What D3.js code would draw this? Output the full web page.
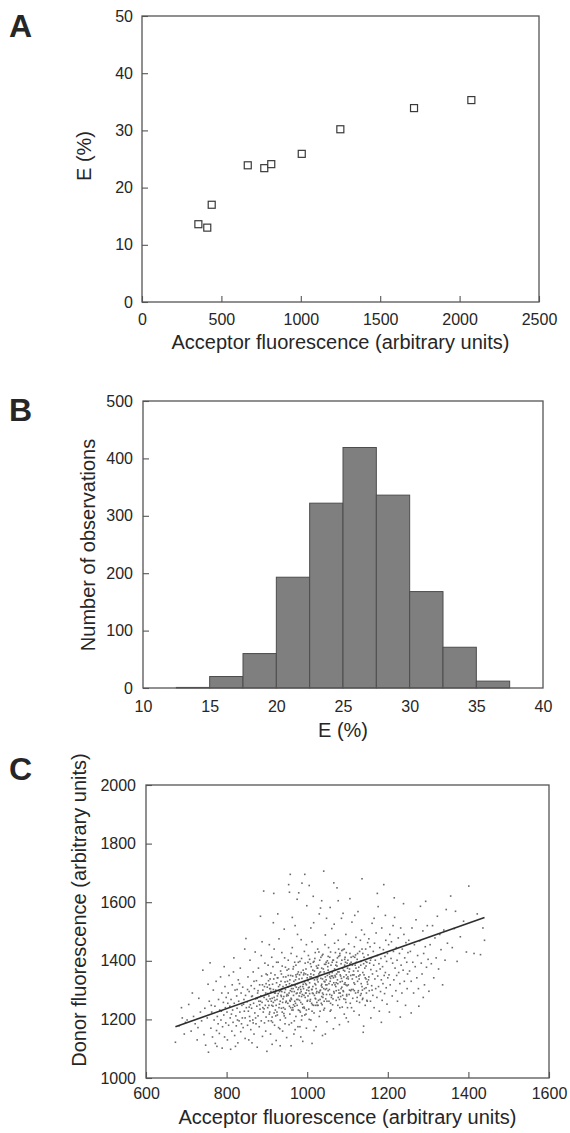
<!DOCTYPE html>
<html><head><meta charset="utf-8">
<script src="https://cdn.jsdelivr.net/npm/d3@7"></script>
<style>
body{margin:0;background:#fff}
svg text{font-family:"Liberation Sans",Arial,Helvetica,sans-serif;fill:#262626}
</style>
</head><body>
<svg id="fig" width="570" height="1133"></svg>
<script>
// ---------- Panel A data ----------
const aAcceptor   = [355, 411, 439, 666, 770, 814, 1006, 1249, 1713, 2074];
const aEfficiency = [13.6, 13.0, 17.0, 23.9, 23.4, 24.1, 25.9, 30.2, 33.9, 35.3];
const aXTicks = [0, 500, 1000, 1500, 2000, 2500];
const aYTicks = [0, 10, 20, 30, 40, 50];

// ---------- Panel B data ----------
const bBinStart = [10, 12.5, 15, 17.5, 20, 22.5, 25, 27.5, 30, 32.5, 35, 37.5];
const bCounts   = [0, 1, 20, 60, 193, 322, 419, 336, 168, 71, 12, 0];
const bXTicks = [10, 15, 20, 25, 30, 35, 40];
const bYTicks = [0, 100, 200, 300, 400, 500];

// ---------- Panel C data ----------
const cXTicks = [600, 800, 1000, 1200, 1400, 1600];
const cYTicks = [1000, 1200, 1400, 1600, 1800, 2000];
const cFitAcceptor = [673, 1440];
const cFitDonor    = [1175, 1548];
// acceptor,donor pairs read (estimated) from the scatter cloud
const cPoints = "673,1122;682,1178;690,1205;695,1150;688,1240;698,1190;" +
"706,1251;712,1160;718,1210;722,1185;727,1130;731,1272;735,1225;738,1195;741,1368;744,1148;746,1238;702,1198;715,1290;729,1172;748,1112;" +
"752,1205;755,1088;757,1262;759,1393;761,1170;763,1225;765,1140;767,1300;769,1198;771,1245;772,1118;774,1330;776,1108;777,1210;779,1185;780,1268;782,1152;783,1232;785,1345;786,1198;788,1290;789,1102;790,1175;792,1258;793,1215;795,1140;796,1312;797,1240;798,1188;799,1275;754,1320;762,1248;775,1162;787,1228;794,1380;" +
"801,1225;802,1130;804,1290;805,1180;806,1350;808,1245;809,1205;810,1098;811,1268;813,1160;814,1318;815,1232;816,1190;818,1410;819,1255;820,1145;821,1300;823,1212;824,1178;825,1280;826,1238;828,1120;829,1335;830,1262;831,1195;833,1225;834,1375;835,1158;836,1290;838,1248;839,1205;840,1310;841,1172;843,1268;844,1228;845,1440;846,1135;847,1282;848,1476;849,1240;803,1255;812,1218;817,1362;822,1108;827,1198;832,1322;837,1185;842,1252;826,1302;846,1205;" +
"851,1260;852,1180;853,1345;854,1228;855,1130;856,1295;857,1210;858,1402;859,1250;860,1165;861,1315;862,1238;863,1120;864,1280;865,1198;866,1362;867,1255;868,1150;869,1305;870,1222;871,1430;872,1270;873,1185;874,1332;875,1245;876,1105;877,1290;878,1212;879,1375;880,1262;881,1175;882,1318;883,1235;884,1552;885,1280;886,1195;887,1348;888,1258;889,1142;890,1300;891,1225;892,1638;893,1275;894,1188;895,1392;896,1248;897,1160;898,1322;899,1268;900,1091;852,1302;858,1195;862,1278;868,1330;872,1205;878,1298;882,1250;886,1418;890,1240;894,1312;898,1208;856,1242;866,1188;876,1272;888,1465;" +
"901,1310;902,1240;903,1385;904,1195;905,1280;906,1455;907,1225;908,1338;909,1150;910,1295;911,1262;912,1412;913,1208;914,1320;915,1245;916,1530;917,1630;918,1275;919,1180;920,1352;921,1232;922,1300;923,1128;924,1395;925,1268;926,1215;927,1342;928,1288;929,1172;930,1475;931,1252;932,1318;933,1198;934,1365;935,1282;936,1238;937,1428;938,1305;939,1160;940,1270;941,1345;942,1220;943,1508;944,1292;945,1185;946,1378;947,1258;948,1318;949,1138;950,1285;902,1288;904,1332;906,1218;908,1270;910,1358;912,1248;914,1190;916,1302;918,1440;920,1265;922,1212;924,1325;926,1280;928,1395;930,1240;932,1168;934,1298;936,1355;938,1225;940,1312;942,1278;944,1410;946,1205;948,1262;950,1368;903,1262;907,1305;911,1195;915,1380;919,1290;923,1248;927,1560;931,1295;935,1330;939,1258;943,1212;947,1345;913,1115;933,1110;945,1235;" +
"951,1330;952,1255;953,1402;954,1660;955,1290;956,1634;957,1218;958,1695;959,1350;960,1272;961,1188;962,1318;963,1445;964,1240;965,1305;966,1380;967,1150;968,1295;969,1262;970,1520;971,1335;972,1210;973,1288;974,1415;975,1248;976,1322;977,1175;978,1362;979,1632;980,1280;981,1230;982,1398;983,1312;984,1258;985,1472;986,1198;987,1340;988,1285;989,1125;990,1368;991,1305;992,1242;993,1432;994,1695;995,1275;996,1355;997,1218;998,1318;999,1588;1000,1262;" +
"952,1310;954,1372;956,1245;958,1298;960,1425;962,1232;964,1348;966,1282;968,1195;970,1315;972,1385;974,1268;976,1490;978,1232;980,1338;982,1175;984,1302;986,1408;988,1252;990,1320;992,1358;994,1215;996,1290;998,1455;1000,1342;" +
"953,1282;957,1335;961,1268;965,1232;969,1395;973,1345;977,1302;981,1265;985,1360;989,1312;993,1238;997,1290;955,1182;963,1548;971,1255;979,1308;987,1212;995,1392;959,1240;967,1330;975,1290;983,1225;991,1352;999,1300;975,1610;987,1665;960,1110;984,1140;998,1170;970,1165;" +
"1001,1352;1002,1280;1003,1418;1004,1235;1005,1657;1006,1325;1007,1262;1008,1390;1009,1198;1010,1345;1011,1302;1012,1465;1013,1250;1014,1368;1015,1288;1016,1530;1017,1222;1018,1335;1019,1408;1020,1272;1021,1318;1022,1175;1023,1382;1024,1295;1025,1248;1026,1440;1027,1328;1028,1265;1029,1355;1030,1210;1031,1402;1032,1298;1033,1580;1034,1340;1035,1255;1036,1375;1037,1310;1038,1145;1039,1422;1040,1285;1041,1706;1042,1362;1043,1238;1044,1328;1045,1488;1046,1270;1047,1395;1048,1305;1049,1192;1050,1350;" +
"1002,1332;1004,1298;1006,1405;1008,1268;1010,1380;1012,1228;1014,1312;1016,1352;1018,1282;1020,1428;1022,1305;1024,1258;1026,1342;1028,1385;1030,1292;1032,1228;1034,1412;1036,1278;1038,1338;1040,1372;1042,1262;1044,1455;1046,1318;1048,1285;1050,1400;" +
"1003,1308;1007,1345;1011,1255;1015,1395;1019,1322;1023,1290;1027,1248;1031,1360;1035,1315;1039,1275;1043,1388;1047,1335;1009,1512;1017,1162;1025,1375;1033,1300;1041,1232;1049,1318;1013,1340;1021,1270;1029,1430;1037,1250;1045,1302;1005,1200;1015,1620;1030,1560;1045,1150;1012,1118;1036,1605;1048,1545;" +
"1051,1380;1052,1298;1053,1445;1054,1262;1055,1355;1056,1412;1057,1228;1058,1340;1059,1385;1060,1275;1061,1510;1062,1318;1063,1250;1064,1402;1065,1342;1066,1666;1067,1290;1068,1372;1069,1205;1070,1428;1071,1312;1072,1265;1073,1395;1074,1649;1075,1335;1076,1248;1077,1470;1078,1300;1079,1362;1080,1182;1081,1418;1082,1328;1083,1278;1084,1390;1085,1545;1086,1310;1087,1242;1088,1375;1089,1438;1090,1295;1091,1345;1092,1218;1093,1405;1094,1325;1095,1268;1096,1490;1097,1352;1098,1285;1099,1392;1100,1240;" +
"1052,1368;1054,1322;1056,1285;1058,1430;1060,1348;1062,1395;1064,1270;1066,1325;1068,1460;1070,1345;1072,1298;1074,1382;1076,1322;1078,1415;1080,1268;1082,1352;1084,1305;1086,1435;1088,1282;1090,1368;1092,1320;1094,1412;1096,1258;1098,1340;1100,1375;" +
"1055,1302;1063,1348;1071,1385;1079,1290;1087,1330;1095,1395;1059,1232;1067,1525;1075,1410;1083,1348;1091,1270;1099,1315;1057,1582;1069,1350;1081,1240;1093,1365;1065,1168;1089,1562;1097,1205;1077,1605;" +
"1101,1402;1102,1318;1103,1458;1104,1285;1105,1372;1106,1425;1107,1255;1108,1350;1109,1395;1110,1302;1111,1532;1112,1338;1113,1272;1114,1415;1115,1365;1116,1228;1117,1448;1118,1320;1119,1385;1120,1290;1121,1480;1122,1345;1123,1262;1124,1405;1125,1330;1126,1568;1127,1298;1128,1378;1129,1215;1130,1432;1131,1352;1132,1282;1133,1398;1134,1322;1135,1505;1136,1680;1137,1268;1138,1360;1139,1156;1140,1177;1141,1412;1142,1305;1143,1375;1144,1248;1145,1440;1146,1338;1147,1290;1148,1395;1149,1328;1150,1462;" +
"1104,1362;1108,1298;1112,1385;1116,1325;1120,1420;1124,1275;1128,1348;1132,1470;1136,1312;1140,1390;1144,1342;1148,1265;1106,1612;1114,1302;1122,1395;1130,1258;1138,1425;1146,1382;1110,1240;1118,1555;1126,1365;1134,1288;1142,1490;1102,1192;1150,1320;" +
"1151,1420;1152,1335;1153,1475;1154,1298;1155,1392;1156,1448;1157,1262;1158,1370;1159,1410;1160,1315;1161,1528;1162,1355;1163,1282;1164,1432;1165,1385;1166,1240;1167,1460;1168,1338;1169,1402;1170,1305;1171,1495;1172,1365;1173,1275;1174,1418;1175,1348;1176,1585;1177,1312;1178,1390;1179,1228;1180,1445;1181,1372;1182,1295;1183,1408;1184,1335;1185,1512;1186,1265;1187,1380;1188,1322;1189,1438;1190,1660;1191,1350;1192,1288;1193,1415;1194,1360;1195,1470;1196,1308;1197,1398;1198,1252;1199,1425;1200,1342;1158,1205;1166,1545;1174,1630;1184,1190;1194,1555;" +
"1202,1455;1203,1352;1205,1490;1206,1318;1208,1408;1209,1465;1211,1280;1212,1392;1214,1432;1215,1335;1217,1548;1218,1375;1220,1298;1221,1445;1223,1402;1224,1262;1226,1478;1227,1360;1229,1425;1230,1322;1232,1512;1233,1385;1235,1290;1236,1440;1238,1368;1239,1595;1241,1330;1242,1410;1244,1248;1245,1462;1247,1395;1248,1305;1250,1428;1204,1225;1213,1520;1222,1350;1231,1208;1240,1490;1249,1355;1216,1615;" +
"1252,1470;1254,1365;1256,1432;1258,1330;1260,1512;1262,1395;1264,1290;1266,1455;1268,1380;1270,1540;1272,1342;1274,1418;1276,1305;1277,1245;1279,1468;1281,1586;1283,1392;1285,1355;1287,1502;1289,1425;1291,1318;1293,1448;1294,1603;1296,1378;1298,1520;1300,1405;1258,1222;1288,1275;" +
"1302,1296;1305,1455;1308,1390;1311,1520;1314,1342;1317,1478;1320,1410;1323,1552;1326,1372;1329,1490;1332,1438;1336,1318;1339,1505;1342,1402;1345,1575;1348,1460;" +
"1356,1621;1360,1445;1365,1510;1368,1569;1372,1398;1380,1482;1388,1535;1395,1430;" +
"1401,1655;1414,1425;1422,1560;1430,1421;1436,1512;1440,1470;" +
"884,1262;889,1318;893,1236;897,1290;901,1352;905,1248;909,1305;913,1272;917,1338;921,1290;925,1225;929,1312;933,1262;937,1295;941,1240;945,1328;949,1280;953,1350;957,1265;961,1305;965,1372;969,1245;973,1310;977,1268;981,1352;985,1295;989,1240;993,1328;997,1372;1001,1265;1005,1310;1009,1355;1013,1290;1017,1398;1021,1248;1025,1335;1029,1292;1033,1362;1037,1418;1041,1305;1045,1345;1049,1262;1053,1392;1057,1330;1061,1282;1065,1402;1069,1318;1073,1355;1077,1275;1081,1425;1085,1340;1089,1298;1093,1385;1097,1428;1101,1345;1105,1300;1109,1412;1113,1352;1117,1298;1121,1375;1125,1425;1129,1338;1133,1385;1137,1300;1141,1352;1145,1398;1149,1262;1153,1345;1157,1402;1161,1300;" +
"906,1318;916,1258;926,1342;936,1278;946,1302;956,1322;966,1250;976,1355;986,1278;996,1322;1006,1288;1016,1248;1026,1375;1036,1320;1046,1388;1056,1345;1066,1295;1076,1362;1086,1402;1096,1318;1106,1390;1116,1352;1126,1292;1136,1440;1146,1308;" +
"898,1355;918,1222;938,1382;958,1262;978,1395;998,1232;1018,1365;1038,1290;1058,1255;1078,1440;1098,1280;1118,1412;1138,1272;" +
"962,1295;972,1352;982,1290;992,1282;1002,1395;1012,1302;1022,1342;1032,1268;1042,1330;1052,1415;1062,1360;1072,1325;1082,1290;1092,1440;1102,1338";

const scatter = cPoints.split(";").map(s => { const p = s.split(","); return {a: +p[0], d: +p[1]}; });

// ---------- drawing ----------
const svg = d3.select("#fig");
const FRAME = "#555";

function framedPanel(o) {
  const x = d3.scaleLinear().domain(o.xDomain).range([o.left, o.right]);
  const y = d3.scaleLinear().domain(o.yDomain).range([o.bottom, o.top]);
  const g = svg.append("g");
  const ya = g.append("g").attr("transform", `translate(${o.left},0)`)
    .call(d3.axisLeft(y).tickValues(o.yTicks).tickSize(-6).tickPadding(o.yPad).tickFormat(d3.format("d")));
  ya.select(".domain").remove();
  ya.selectAll("line").attr("stroke", FRAME).attr("stroke-width", 1.1);
  ya.selectAll("text").attr("font-size", o.tickFont).attr("fill", "#262626")
    .attr("font-family", '"Liberation Sans",Arial,sans-serif');
  const xa = g.append("g").attr("transform", `translate(0,${o.bottom})`)
    .call(d3.axisBottom(x).tickValues(o.xTicks).tickSize(o.xTickLen).tickPadding(o.xPad).tickFormat(d3.format("d")));
  xa.select(".domain").remove();
  xa.selectAll("line").attr("stroke", FRAME).attr("stroke-width", 1.1);
  xa.selectAll("text").attr("font-size", o.tickFont).attr("fill", "#262626")
    .attr("font-family", '"Liberation Sans",Arial,sans-serif');
  return {x, y, g};
}
function frame(o) {
  svg.append("rect").attr("x", o.left).attr("y", o.top)
    .attr("width", o.right - o.left).attr("height", o.bottom - o.top)
    .attr("fill", "none").attr("stroke", FRAME).attr("stroke-width", 1.3);
}
function titles(o, xTitle, yTitle, yCenter, yBase, letter, letterY) {
  svg.append("text").attr("x", (o.left + o.right) / 2).attr("y", o.xTitleY)
    .attr("text-anchor", "middle").attr("font-size", o.titleFont).text(xTitle);
  svg.append("text").attr("transform", `translate(${yBase},${yCenter}) rotate(-90)`)
    .attr("text-anchor", "middle").attr("font-size", o.titleFont).text(yTitle);
  svg.append("text").attr("x", 9).attr("y", letterY)
    .attr("font-size", 32).attr("font-weight", "bold").attr("fill", "#111").text(letter);
}

// Panel A
const A = {left:142, right:539, top:16, bottom:302, xDomain:[0,2500], yDomain:[0,50],
  xTicks:aXTicks, yTicks:aYTicks, yPad:9, xPad:12, xTickLen:-6, tickFont:16, titleFont:20, xTitleY:349};
const pa = framedPanel(A);
pa.g.selectAll("rect.pt").data(aAcceptor.map((v,i)=>({a:v,e:aEfficiency[i]}))).join("rect")
  .attr("x", d => pa.x(d.a) - 3.5).attr("y", d => pa.y(d.e) - 3.5)
  .attr("width", 7).attr("height", 7).attr("fill", "#fff").attr("stroke", "#3a3a3a").attr("stroke-width", 1.2);
frame(A);
titles(A, "Acceptor fluorescence (arbitrary units)", "E (%)", 156, 91, "A", 37);

// Panel B
const B = {left:143, right:543, top:401, bottom:688, xDomain:[10,40], yDomain:[0,500],
  xTicks:bXTicks, yTicks:bYTicks, yPad:10, xPad:13, xTickLen:0, tickFont:16, titleFont:20, xTitleY:737};
const pb = framedPanel(B);
pb.g.selectAll("rect.bar").data(bBinStart.map((s,i)=>({s, c:bCounts[i]}))).join("rect")
  .attr("x", d => pb.x(d.s)).attr("y", d => pb.y(d.c))
  .attr("width", d => pb.x(d.s + 2.5) - pb.x(d.s)).attr("height", d => pb.y(0) - pb.y(d.c))
  .attr("fill", "#7f7f7f").attr("stroke", "#4d4d4d").attr("stroke-width", 1);
frame(B);
titles(B, "E (%)", "Number of observations", 545, 95, "B", 421);

// Panel C
const C = {left:146, right:549, top:785, bottom:1078, xDomain:[600,1600], yDomain:[1000,2000],
  xTicks:cXTicks, yTicks:cYTicks, yPad:10, xPad:10, xTickLen:-6, tickFont:16, titleFont:20, xTitleY:1124};
const pc = framedPanel(C);
pc.g.selectAll("rect.dot").data(scatter).join("rect")
  .attr("x", d => pc.x(d.a) - 0.8).attr("y", d => pc.y(d.d) - 0.8)
  .attr("width", 1.6).attr("height", 1.6).attr("fill", "#6a6a6a");
pc.g.append("path")
  .datum(cFitAcceptor.map((v,i)=>[v, cFitDonor[i]]))
  .attr("d", d3.line().x(d => pc.x(d[0])).y(d => pc.y(d[1])))
  .attr("stroke", "#2e2e2e").attr("stroke-width", 1.6).attr("fill", "none");
frame(C);
titles(C, "Acceptor fluorescence (arbitrary units)", "Donor fluorescence (arbitrary units)", 910, 86, "C", 780);
</script>
</body></html>
